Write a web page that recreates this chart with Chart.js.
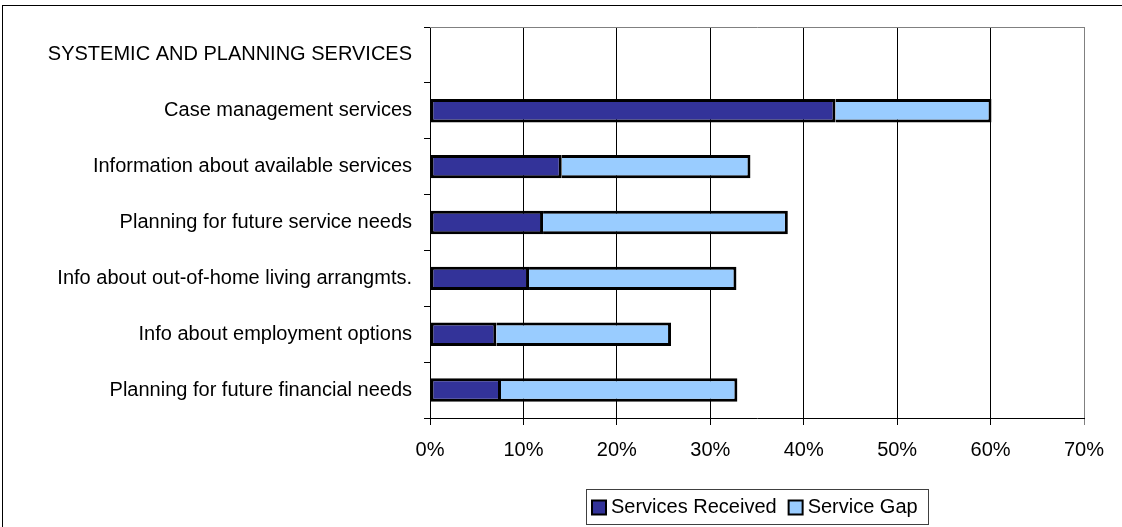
<!DOCTYPE html>
<html lang="en">
<head>
  <meta charset="UTF-8" />
  <title>Systemic and Planning Services</title>
  <style>
    body {
      margin: 0;
      background-color: #ffffff;
    }

    #wrap {
      width: 1122px;
      height: 527px;
    }
  </style>
</head>
<body>
  <div id="wrap"><canvas id="servicesChart"></canvas></div>

  <script src="https://cdn.jsdelivr.net/npm/chart.js"></script>
  <script>
    const categories = [
      "SYSTEMIC AND PLANNING SERVICES",
      "Case management services",
      "Information about available services",
      "Planning for future service needs",
      "Info about out-of-home living arrangmts.",
      "Info about employment options",
      "Planning for future financial needs"
    ];
    // percent of families; the header row has no bar
    const servicesReceived = [null, 43.4, 14.1, 12.1, 10.6, 7.1, 7.6];
    const serviceGap = [null, 16.7, 20.2, 26.2, 22.2, 18.7, 25.3];
    const xTicks = [0, 10, 20, 30, 40, 50, 60, 70];

    const FONT = "'Liberation Sans', Arial, sans-serif";

    // outer frame, plot area border and the boxed legend underneath
    const framePlugin = {
      id: "frame",
      beforeDatasetsDraw(chart) {
        const { ctx, chartArea: a } = chart;
        ctx.save();
        ctx.strokeStyle = "#808080";
        ctx.lineWidth = 1;
        ctx.beginPath();
        ctx.moveTo(a.left, a.top + 0.5);
        ctx.lineTo(a.right + 0.5, a.top + 0.5);
        ctx.lineTo(a.right + 0.5, a.bottom);
        ctx.stroke();
        ctx.restore();
      },
      afterDraw(chart) {
        const { ctx, chartArea: a } = chart;
        ctx.save();
        ctx.strokeStyle = "#000";
        ctx.lineWidth = 1;
        ctx.strokeRect(2.5, 5.5, 1160, 560);

        ctx.font = "20px " + FONT;
        ctx.textBaseline = "middle";
        const sw = 14, gapIn = 5, gapOut = 12, padL = 6, padR = 10;
        const items = chart.data.datasets.map(ds => ({
          label: ds.label, color: ds.backgroundColor,
          w: ctx.measureText(ds.label).width
        }));
        let total = padL + padR;
        items.forEach((it, i) => {
          total += sw + gapIn + it.w + (i < items.length - 1 ? gapOut : 0);
        });
        const boxTop = 489, boxH = 35;
        const left = Math.round((a.left + a.right) / 2 - total / 2);
        ctx.strokeStyle = "#404040";
        ctx.strokeRect(left + 0.5, boxTop + 0.5, Math.round(total), boxH);

        const cy = boxTop + boxH / 2 + 1;
        let x = left + padL;
        ctx.strokeStyle = "#000";
        items.forEach(it => {
          ctx.fillStyle = it.color;
          ctx.fillRect(x, cy - sw / 2, sw, sw);
          ctx.lineWidth = 2;
          ctx.strokeRect(x, cy - sw / 2, sw, sw);
          ctx.fillStyle = "#000";
          ctx.fillText(it.label, x + sw + gapIn, cy);
          x += sw + gapIn + it.w + gapOut;
        });
        ctx.restore();
      }
    };

    const ctx = document.getElementById("servicesChart").getContext("2d");

    new Chart(ctx, {
      type: "bar",
      data: {
        labels: categories,
        datasets: [
          {
            label: "Services Received",
            data: servicesReceived,
            backgroundColor: "#333399",
            borderColor: "#000",
            borderWidth: 3,
            borderSkipped: false
          },
          {
            label: "Service Gap",
            data: serviceGap,
            backgroundColor: "#99ccff",
            borderColor: "#000",
            borderWidth: 3,
            // the dark segment already draws the shared edge
            borderSkipped: "start"
          }
        ]
      },
      options: {
        indexAxis: "y",
        responsive: true,
        maintainAspectRatio: false,
        animation: false,
        categoryPercentage: 1,
        barPercentage: 0.42,
        layout: {
          padding: { top: 27, right: 38, bottom: 0, left: 0 }
        },
        plugins: {
          legend: { display: false },
          tooltip: { enabled: false }
        },
        scales: {
          x: {
            stacked: true,
            min: 0,
            max: 70,
            afterBuildTicks: (scale) => {
              scale.ticks = xTicks.map(v => ({ value: v }));
            },
            afterFit: (scale) => {
              scale.height = 109;
            },
            grid: {
              color: (c) => (c.tick && c.tick.value === 70 ? "#808080" : "#000"),
              lineWidth: 1,
              tickLength: 7
            },
            border: { color: "#000", width: 1 },
            ticks: {
              color: "#000",
              padding: 13,
              font: { family: FONT, size: 20 },
              callback: (v) => v + "%"
            }
          },
          y: {
            stacked: true,
            afterFit: (scale) => {
              scale.width = 430;
            },
            grid: {
              drawOnChartArea: false,
              offset: true,
              color: "#000",
              tickLength: 6
            },
            border: { color: "#000", width: 1 },
            ticks: {
              color: "#000",
              padding: 12,
              autoSkip: false,
              font: { family: FONT, size: 20 }
            }
          }
        }
      },
      plugins: [framePlugin]
    });
  </script>
</body>
</html>
